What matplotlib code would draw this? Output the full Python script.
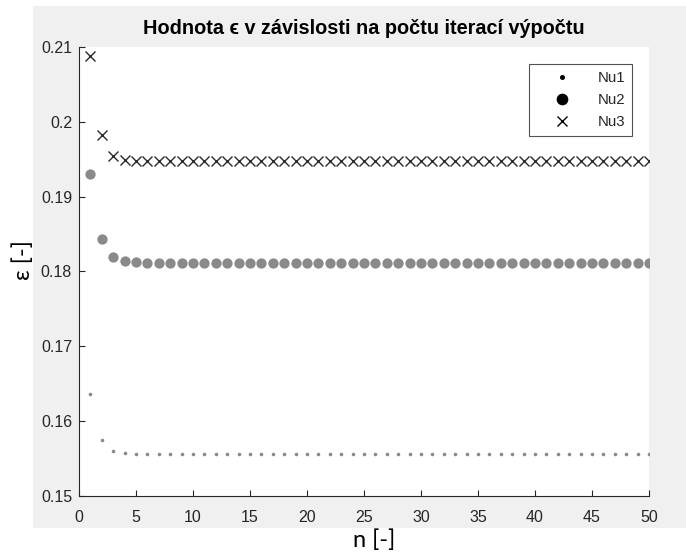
import matplotlib.pyplot as plt
from matplotlib.lines import Line2D
from matplotlib.patches import Rectangle

# iteration number
n = list(range(1, 51))

# epsilon after each iteration, one series per Nusselt correlation
nu1 = [0.1636, 0.1575, 0.1560, 0.1557, 0.1556, 0.1556, 0.1556, 0.1556, 0.1556, 0.1556,
       0.1556, 0.1556, 0.1556, 0.1556, 0.1556, 0.1556, 0.1556, 0.1556, 0.1556, 0.1556,
       0.1556, 0.1556, 0.1556, 0.1556, 0.1556, 0.1556, 0.1556, 0.1556, 0.1556, 0.1556,
       0.1556, 0.1556, 0.1556, 0.1556, 0.1556, 0.1556, 0.1556, 0.1556, 0.1556, 0.1556,
       0.1556, 0.1556, 0.1556, 0.1556, 0.1556, 0.1556, 0.1556, 0.1556, 0.1556, 0.1556]
nu2 = [0.1930, 0.1843, 0.1819, 0.1814, 0.1813, 0.1812, 0.1812, 0.1812, 0.1812, 0.1812,
       0.1812, 0.1812, 0.1812, 0.1812, 0.1812, 0.1812, 0.1812, 0.1812, 0.1812, 0.1812,
       0.1812, 0.1812, 0.1812, 0.1812, 0.1812, 0.1812, 0.1812, 0.1812, 0.1812, 0.1812,
       0.1812, 0.1812, 0.1812, 0.1812, 0.1812, 0.1812, 0.1812, 0.1812, 0.1812, 0.1812,
       0.1812, 0.1812, 0.1812, 0.1812, 0.1812, 0.1812, 0.1812, 0.1812, 0.1812, 0.1812]
nu3 = [0.2088, 0.1983, 0.1955, 0.1949, 0.1948, 0.1947, 0.1947, 0.1947, 0.1947, 0.1947,
       0.1947, 0.1947, 0.1947, 0.1947, 0.1947, 0.1947, 0.1947, 0.1947, 0.1947, 0.1947,
       0.1947, 0.1947, 0.1947, 0.1947, 0.1947, 0.1947, 0.1947, 0.1947, 0.1947, 0.1947,
       0.1947, 0.1947, 0.1947, 0.1947, 0.1947, 0.1947, 0.1947, 0.1947, 0.1947, 0.1947,
       0.1947, 0.1947, 0.1947, 0.1947, 0.1947, 0.1947, 0.1947, 0.1947, 0.1947, 0.1947]

series_names = ["Nu1", "Nu2", "Nu3"]
x_ticks = [0, 5, 10, 15, 20, 25, 30, 35, 40, 45, 50]
y_ticks = [0.15, 0.16, 0.17, 0.18, 0.19, 0.20, 0.21]
y_tick_labels = ["0.15", "0.16", "0.17", "0.18", "0.19", "0.2", "0.21"]

plt.rcParams['font.family'] = ['Liberation Sans', 'DejaVu Sans']
ink = '#262626'

fig = plt.figure(figsize=(6.86, 5.53), dpi=100, facecolor='white')

# grey figure panel behind the axes
fig.patches.append(Rectangle((0.048, 0.045), 0.952, 0.944, transform=fig.transFigure,
                             facecolor='#f0f0f0', edgecolor='none', zorder=-5))

ax = fig.add_axes([0.1152, 0.1031, 0.8308, 0.8119])
ax.set_zorder(2)
ax.set_facecolor('white')

ax.plot(n, nu1, linestyle='none', marker='o', markersize=2.6, color='#8a8a8a',
        markeredgewidth=0)
ax.plot(n, nu2, linestyle='none', marker='o', markersize=7.4, color='#8a8a8a',
        markeredgewidth=0)
ax.plot(n, nu3, linestyle='none', marker='x', markersize=6.8, color='#2a2a2a',
        markeredgewidth=1.0)

ax.set_xlim(0, 50)
ax.set_ylim(0.15, 0.21)
ax.set_xticks(x_ticks)
ax.set_yticks(y_ticks)
ax.set_yticklabels(y_tick_labels)

for side in ['top', 'right']:
    ax.spines[side].set_visible(False)
for side in ['left', 'bottom']:
    ax.spines[side].set_color(ink)
    ax.spines[side].set_linewidth(0.8)
ax.tick_params(direction='in', length=4.5, width=0.8, color=ink, labelcolor=ink,
               labelsize=11.5)
ax.tick_params(axis='x', pad=10)
ax.tick_params(axis='y', pad=5)

handles = [
    Line2D([], [], linestyle='none', marker='o', markersize=2.6, color='black'),
    Line2D([], [], linestyle='none', marker='o', markersize=7.4, color='black'),
    Line2D([], [], linestyle='none', marker='x', markersize=6.8, color='black'),
]
leg = ax.legend(handles, series_names, loc='upper right', bbox_to_anchor=(0.970, 0.962),
                fontsize=10.8, frameon=True, fancybox=False, handlelength=3.5,
                handletextpad=0.6, borderpad=0.45, labelspacing=0.55, borderaxespad=0)
leg.get_frame().set_edgecolor(ink)
leg.get_frame().set_linewidth(0.8)
for t in leg.get_texts():
    t.set_color(ink)

# title with the lunate epsilon drawn thin and small
fig.text(0.5306, 0.949, "Hodnota \u03f5 v závislosti na počtu iterací výpočtu",
         ha='center', va='center', fontsize=14.3, fontweight='bold', color='black')

fig.text(0.545, 0.024, "n [-]", ha='center', va='center', fontsize=17,
         family=['Lato', 'DejaVu Sans'])
fig.text(0.034, 0.53, "ε [-]", ha='center', va='center', rotation=90, fontsize=17,
         family=['Lato', 'DejaVu Sans'])

fig.savefig("out.png", dpi=100)
